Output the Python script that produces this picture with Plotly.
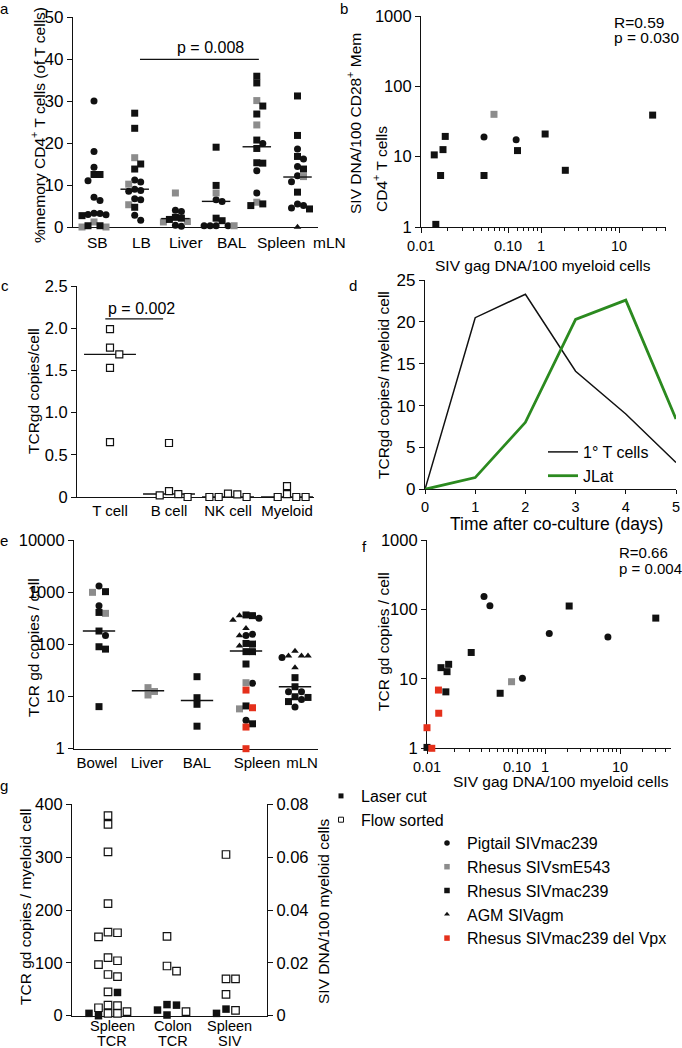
import math
import plotly.graph_objects as go

W, H = 682, 1048
FONT = "Liberation Sans, Arial, Helvetica, sans-serif"
INK = "#111111"
GREY = "#8c8c8c"
RED = "#e5301b"
GREEN = "#2b8a1f"

# ======================= DATA =======================
# species codes: P Pigtail SIVmac239, G Rhesus SIVsmE543, R Rhesus SIVmac239,
#                A AGM SIVagm, V Rhesus SIVmac239 del Vpx
species_order = ["P", "G", "R", "A", "V"]
species_names = ["Pigtail SIVmac239", "Rhesus SIVsmE543", "Rhesus SIVmac239",
                 "AGM SIVagm", "Rhesus SIVmac239 del Vpx"]

# (a) %memory CD4+ T cells (of T cells)
a_categories = ["SB", "LB", "Liver", "BAL", "Spleen", "mLN"]
a_SB = [30, 18, 14.2, 12.5, 12.5, 11, 7.1, 6.3, 3.3, 3.2, 3.0, 2.9, 2.7, 1.2, 0.3, 0.3, 0, 0]
a_SB_sp = list("PPPRRPPPPPPPRGRRGG")
a_LB = [27.1, 23.5, 16.5, 15.0, 13.8, 11.2, 10.7, 10.2, 9.0, 8.7, 8.5, 6.7, 6.5, 5.3, 4.7, 2.8, 1.6]
a_LB_sp = list("RRGRRPPGPPPPPGRPP")
a_Liver = [8.1, 4.0, 3.7, 2.3, 2.1, 1.8, 1.3, 1.2, 0.4, 0.2]
a_Liver_sp = list("GPPRRRGGPP")
a_BAL = [19.0, 9.9, 8.1, 6.5, 6.1, 2.1, 1.5, 0.3, 0.3, 0.3, 0.3, 0.3]
a_BAL_sp = list("RRGPPRRPPPPG")
a_Spleen = [35.9, 34.3, 30.1, 28.8, 26.9, 24.3, 20.7, 19.9, 18.7, 15.3, 15.2, 13.4, 8.1, 5.9, 5.5, 5.1]
a_Spleen_sp = list("RRGRRGRPRRRPPGRR")
a_mLN = [31.2, 21.8, 18.6, 16.8, 16.2, 14.4, 13.8, 12.2, 12.0, 10.8, 8.3, 5.5, 5.1, 4.5, 4.3, 0]
a_mLN_sp = list("RRPRPPRPGPRPPPRA")
a_medians = [3.2, 9.0, 2.0, 6.1, 19.1, 11.9]
a_p_text = "p = 0.008"
a_p_groups = ("LB", "Spleen")
a_p_level = 39.9

# (b) SIV DNA in memory CD4 T cells vs SIV gag DNA in myeloid cells
b_x = [0.0148, 0.0142, 0.0168, 0.0179, 0.019, 0.053, 0.053, 0.069, 0.48, 0.50, 1.13, 2.05, 27]
b_y = [1.09, 10.6, 5.4, 12.6, 19.4, 5.4, 19.0, 40, 17.4, 12.2, 21, 6.4, 39]
b_sp = list("RRRRRRPGPRRRR")
b_stats = ["R=0.59", "p = 0.030"]

# (c) TCRgd copies/cell by sorted population
c_categories = ["T cell", "B cell", "NK cell", "Myeloid"]
c_T = [1.99, 1.77, 1.69, 1.53, 0.65]
c_B = [0.64, 0.035, 0.0, 0.02, 0.07]
c_NK = [0.04, 0.0, 0.0, 0.0, 0.03]
c_My = [0.0, 0.0, 0.0, 0.035, 0.13]
c_medians = [1.69, 0.035, 0.0, 0.0]
c_p_text = "p = 0.002"
c_p_groups = ("T cell", "B cell")
c_p_level = 2.11

# (d) co-culture time course
d_days = [0, 1, 2, 3, 4, 5]
d_T = [0, 20.5, 23.3, 14.1, 9.0, 3.2]
d_JLat = [0, 1.4, 8.0, 20.3, 22.6, 8.4]
d_names = ["1° T cells", "JLat"]

# (e) TCR gd copies / cell by tissue
e_categories = ["Bowel", "Liver", "BAL", "Spleen", "mLN"]
e_Bowel = [1313, 1023, 993, 551, 409, 393, 180, 147, 90, 81, 6.4]
e_Bowel_sp = list("PRGPRGRPRRR")
e_Liver = [14.8, 12.5, 10.7]
e_Liver_sp = list("GGG")
e_BAL = [24, 9.5, 7.1, 2.7]
e_BAL_sp = list("RRRR")
e_Spleen = [366, 355, 355, 315, 293, 203, 156, 147, 147, 104, 101, 94, 72.5, 72.5, 42,
            18.4, 17.9, 13.3, 6.6, 6.1, 5.8, 3.5, 3.0, 2.6, 1.0]
e_Spleen_sp = list("RRAPAAPPARRARRRGPVRVGPRVV")
e_mLN = [74, 60, 60, 60, 56, 36, 23, 15.4, 12.4, 12.4, 9.9, 9.6, 8.8, 8.0, 6.3]
e_mLN_sp = list("AAAAPARRPPRRPRP")
e_medians = [180, 12.9, 8.4, 74.5, 15.4]

# (f) TCR gd copies / cell vs SIV gag DNA / 100 myeloid cells
f_x = [0.01, 0.01, 0.0113, 0.0134, 0.0135, 0.0143, 0.0167, 0.0174, 0.0162, 0.031,
       0.043, 0.05, 0.065, 0.087, 0.50, 1.14, 2.1, 6.9, 30]
f_y = [1.03, 1.98, 1.0, 6.9, 3.2, 14.5, 12.7, 16.2, 6.5, 24,
       153, 113, 6.2, 9.1, 10.2, 45, 112, 40, 75]
f_sp = list("RVVVVRRRRRPPRGPPRPR")
f_stats = ["R=0.66", "p = 0.004"]

# (g) laser cut vs flow sorted
g_categories = [("Spleen", "TCR"), ("Colon", "TCR"), ("Spleen", "SIV")]
g_spleen_tcr_flow = [378.5, 362, 310, 212, 158, 149, 157, 104, 96.5, 110, 74, 78, 45, 19, 20, 15, 7.6, 4.4, 4.4]
g_spleen_tcr_laser = [44, 0, 4.4]
g_colon_tcr_flow = [150, 94, 84.5, 7.6]
g_colon_tcr_laser = [20, 21, 10.7, 1.3]
g_spleen_siv_flow = [0.061, 0.0139, 0.0139, 0.0081, 0.002]   # right axis
g_spleen_siv_laser = [0.00088, 0.0025]                       # right axis
g_legend = ["Laser cut", "Flow sorted"]

# ======================= LAYOUT GEOMETRY (pixels) =======================
def fx(px):
    return px / W


def fy(py):
    return 1 - py / H


def lin_pix(v, r0, r1, p0, p1):
    return p0 + (v - r0) / (r1 - r0) * (p1 - p0)


def log_pix(v, r0, r1, p0, p1):
    return lin_pix(math.log10(max(v, 1e-9)), r0, r1, p0, p1)


SPEC_STYLE = {
    "P": dict(symbol="circle", color=INK),
    "G": dict(symbol="square", color=GREY),
    "R": dict(symbol="square", color=INK),
    "A": dict(symbol="triangle-up", color=INK),
    "V": dict(symbol="square", color=RED),
}

fig = go.Figure()


def swarm(pix, step, vthr):
    n = len(pix)
    order = sorted(range(n), key=lambda i: (pix[i], i))
    placed, offs = [], [0.0] * n
    for i in order:
        k = 0
        while True:
            m = (k + 1) // 2
            c = 0.0 if k == 0 else m * step * (1 if k % 2 else -1)
            if all(abs(c - ox) > step * 0.98 or abs(pix[i] - py) >= vthr for ox, py in placed):
                break
            k += 1
        offs[i] = c
        placed.append((c, pix[i]))
    return offs


def marker_for(s, size=7):
    st = SPEC_STYLE[s]
    sz = size * 0.95 if st["symbol"] == "triangle-up" else size
    return dict(symbol=st["symbol"], color=st["color"], size=sz, line=dict(width=0))


def add_dots(vals_list, sp_list, pix_fn, ppu, step, vthr, xa, ya):
    buckets = {}
    for gi, (vals, sps) in enumerate(zip(vals_list, sp_list)):
        offs = swarm([pix_fn(v) for v in vals], step, vthr)
        for v, s, o in zip(vals, sps, offs):
            bx, by = buckets.setdefault(s, ([], []))
            bx.append(gi + o / ppu)
            by.append(v)
    for s in species_order:
        if s in buckets:
            fig.add_trace(go.Scatter(x=buckets[s][0], y=buckets[s][1], mode="markers",
                                     xaxis=xa, yaxis=ya, showlegend=False, cliponaxis=False,
                                     hoverinfo="skip", marker=marker_for(s)))


def add_medians(meds, half, xa, ya, width=1.4):
    xs, ys = [], []
    for gi, m in enumerate(meds):
        xs += [gi - half, gi + half, None]
        ys += [m, m, None]
    fig.add_trace(go.Scatter(x=xs, y=ys, mode="lines", line=dict(color=INK, width=width),
                             xaxis=xa, yaxis=ya, showlegend=False, hoverinfo="skip",
                             cliponaxis=False))


def add_sig(cats, groups, pads, level, xa, ya):
    i0, i1 = cats.index(groups[0]), cats.index(groups[1])
    fig.add_trace(go.Scatter(x=[i0 + pads[0], i1 + pads[1]], y=[level, level], mode="lines",
                             line=dict(color=INK, width=1.3), xaxis=xa, yaxis=ya,
                             showlegend=False, hoverinfo="skip", cliponaxis=False))


def add_seg_scatter(xs, ys, sps, split, xa1, xa2, ya):
    for s in species_order:
        for first, xa in ((True, xa1), (False, xa2)):
            px = [x for x, sp in zip(xs, sps) if sp == s and ((x <= split) == first)]
            py = [y for x, y, sp in zip(xs, ys, sps) if sp == s and ((x <= split) == first)]
            if px:
                fig.add_trace(go.Scatter(x=px, y=py, mode="markers", xaxis=xa, yaxis=ya,
                                         showlegend=False, cliponaxis=False, hoverinfo="skip",
                                         marker=marker_for(s)))


# ---------------- panel a ----------------
A_X0, A_X1, A_YT, A_YB, A_C0, A_PPU = 73, 318, 17, 227, 94, 40.7
add_dots([a_SB, a_LB, a_Liver, a_BAL, a_Spleen, a_mLN],
         [a_SB_sp, a_LB_sp, a_Liver_sp, a_BAL_sp, a_Spleen_sp, a_mLN_sp],
         lambda v: lin_pix(v, 0, 50, A_YB, A_YT), A_PPU, 6, 6.5, "x", "y")
add_medians(a_medians, 0.35, "x", "y")
add_sig(a_categories, a_p_groups, (0.13, 0.05), a_p_level, "x", "y")
a_label_px = [97, 141, 186, 232, 281, 329]

# ---------------- panel b ----------------
add_seg_scatter(b_x, b_y, b_sp, 0.2, "x2", "x3", "y2")

# ---------------- panel c ----------------
C_X0, C_X1, C_YT, C_YB, C_C0, C_PPU = 77, 314, 286, 497, 110, 59
c_groups = [c_T, c_B, c_NK, c_My]
cx, cy = [], []
for gi, vals in enumerate(c_groups):
    offs = swarm([lin_pix(v, 0, 2.5, C_YB, C_YT) for v in vals], 9.3, 7)
    for v, o in zip(vals, offs):
        cx.append(gi + o / C_PPU)
        cy.append(v)
add_medians(c_medians, 0.44, "x4", "y4")
fig.add_trace(go.Scatter(x=cx, y=cy, mode="markers", xaxis="x4", yaxis="y4", showlegend=False,
                         cliponaxis=False, hoverinfo="skip",
                         marker=dict(symbol="square", color="white", size=7,
                                     line=dict(color=INK, width=1.2))))
add_sig(c_categories, c_p_groups, (-0.08, -0.1), c_p_level, "x4", "y4")

# ---------------- panel d ----------------
fig.add_trace(go.Scatter(x=d_days, y=d_T, mode="lines", name=d_names[0], line=dict(color=INK, width=1.5),
                         xaxis="x5", yaxis="y5", legend="legend3", showlegend=True, hoverinfo="skip",
                         cliponaxis=False))
fig.add_trace(go.Scatter(x=d_days, y=d_JLat, mode="lines", name=d_names[1], line=dict(color=GREEN, width=2.8),
                         xaxis="x5", yaxis="y5", legend="legend3", showlegend=True, hoverinfo="skip",
                         cliponaxis=False))

# ---------------- panel e ----------------
E_X0, E_X1, E_YT, E_YB, E_C0, E_PPU = 74, 318, 540, 748.7, 99, 49
add_dots([e_Bowel, e_Liver, e_BAL, e_Spleen, e_mLN],
         [e_Bowel_sp, e_Liver_sp, e_BAL_sp, e_Spleen_sp, e_mLN_sp],
         lambda v: log_pix(v, 0, 4, E_YB, E_YT), E_PPU, 6.5, 6.5, "x6", "y6")
add_medians(e_medians, 0.33, "x6", "y6")
e_label_px = [97, 147, 197, 257, 302]

# ---------------- panel f ----------------
add_seg_scatter(f_x, f_y, f_sp, 0.2, "x7", "x8", "y7")

# ---------------- panel g ----------------
G_X0, G_X1, G_YT, G_YB, G_C0, G_PPU = 72, 267, 804.3, 1015.7, 108, 59
g_sets = [(g_spleen_tcr_flow, g_spleen_tcr_laser, 400.0),
          (g_colon_tcr_flow, g_colon_tcr_laser, 400.0),
          (g_spleen_siv_flow, g_spleen_siv_laser, 0.08)]
flow_l, laser_l, flow_r, laser_r = ([], []), ([], []), ([], []), ([], [])
for gi, (fl, la, top) in enumerate(g_sets):
    vals = fl + la
    offs = swarm([lin_pix(v, 0, top, G_YB, G_YT) for v in vals], 9.5, 7.5)
    for j, (v, o) in enumerate(zip(vals, offs)):
        is_flow = j < len(fl)
        if top == 400.0:
            tgt = flow_l if is_flow else laser_l
        else:
            tgt = flow_r if is_flow else laser_r
        tgt[0].append(gi + o / G_PPU)
        tgt[1].append(v)
open_sq = dict(symbol="square", color="white", size=7.5, line=dict(color=INK, width=1.2))
fill_sq = dict(symbol="square", color=INK, size=7.5, line=dict(width=0))
for (xs, ys), mk, ya in ((flow_l, open_sq, "y9"), (flow_r, open_sq, "y10"),
                         (laser_l, fill_sq, "y9"), (laser_r, fill_sq, "y10")):
    fig.add_trace(go.Scatter(x=xs, y=ys, mode="markers", xaxis="x9", yaxis=ya, showlegend=False,
                             cliponaxis=False, hoverinfo="skip", marker=mk))

# ---------------- legends (symbol keys) ----------------
fig.add_trace(go.Scatter(x=[None], y=[None], mode="markers", name=g_legend[0], legend="legend",
                         marker=dict(symbol="square", color=INK, size=5, line=dict(width=0)),
                         xaxis="x9", yaxis="y9", showlegend=True, hoverinfo="skip"))
fig.add_trace(go.Scatter(x=[None], y=[None], mode="markers", name=g_legend[1], legend="legend",
                         marker=dict(symbol="square", color="white", size=5, line=dict(color=INK, width=1)),
                         xaxis="x9", yaxis="y9", showlegend=True, hoverinfo="skip"))
for s, nm in zip(species_order, species_names):
    mk = marker_for(s, 5.5)
    fig.add_trace(go.Scatter(x=[None], y=[None], mode="markers", name=nm, legend="legend2",
                             marker=mk, xaxis="x6", yaxis="y6", showlegend=True, hoverinfo="skip"))


# ======================= AXES =======================
def ax(**kw):
    d = dict(showline=True, linecolor=INK, linewidth=1.2, ticks="outside", ticklen=5, tickwidth=1.2,
             tickcolor=INK, showgrid=False, zeroline=False, layer="below traces", automargin=False,
             tickfont=dict(family=FONT, size=16.5, color="black"), fixedrange=True)
    d.update(kw)
    return d


def cat_range(x0, x1, c0, ppu):
    return [(x0 - c0) / ppu, (x1 - c0) / ppu]


def minor(vals):
    return dict(tickmode="array", tickvals=vals, ticks="outside", ticklen=3, tickwidth=1, tickcolor=INK)


seg1_minor = [0.02, 0.03, 0.04, 0.05, 0.06, 0.07, 0.08, 0.09]
seg2_minor = [0.5, 0.6, 0.7, 0.8, 0.9, 2, 3, 4, 5, 6, 7, 8, 9, 20, 30, 40, 50]
small_tick = dict(family=FONT, size=14.5, color="black")

layout_axes = dict(
    # a
    xaxis=ax(domain=[fx(A_X0), fx(A_X1)], range=cat_range(A_X0, A_X1, A_C0, A_PPU), anchor="y",
             ticks="", showticklabels=False),
    yaxis=ax(domain=[fy(A_YB), fy(A_YT)], range=[0, 50], anchor="x", tickvals=[0, 10, 20, 30, 40, 50],
             tickfont=dict(family=FONT, size=17, color="black")),
    # b
    xaxis2=ax(domain=[fx(421), fx(512)], type="log", range=[-2.0, -2 + 91 / 87], anchor="y2",
              tickvals=[0.01, 0.1], ticktext=["0.01", "0.10"], minor=minor(seg1_minor), tickfont=small_tick),
    xaxis3=ax(domain=[fx(512), fx(666)], type="log", range=[-29 / 78, 125 / 78], anchor="y2",
              tickvals=[1, 10], ticktext=["1", "10"], minor=minor(seg2_minor), tickfont=small_tick),
    yaxis2=ax(domain=[fy(227), fy(16)], type="log", range=[0, 3], anchor="x2",
              tickvals=[1, 10, 100, 1000], ticktext=["1", "10", "100", "1000"]),
    # c
    xaxis4=ax(domain=[fx(C_X0), fx(C_X1)], range=cat_range(C_X0, C_X1, C_C0, C_PPU), anchor="y4",
              ticks="", tickvals=[0, 1, 2, 3], ticktext=c_categories,
              tickfont=dict(family=FONT, size=15, color="black")),
    yaxis4=ax(domain=[fy(C_YB), fy(C_YT)], range=[0, 2.5], anchor="x4",
              tickvals=[0, 0.5, 1, 1.5, 2, 2.5], ticktext=["0", "0.5", "1.0", "1.5", "2.0", "2.5"]),
    # d
    xaxis5=ax(domain=[fx(425), fx(676)], range=[0, 5], anchor="y5", tickvals=d_days, ticklen=4,
              tickfont=dict(family=FONT, size=14.5, color="black")),
    yaxis5=ax(domain=[fy(489.3), fy(280)], range=[0, 25], anchor="x5", tickvals=[0, 5, 10, 15, 20, 25],
              tickfont=dict(family=FONT, size=17, color="black")),
    # e
    xaxis6=ax(domain=[fx(E_X0), fx(E_X1)], range=cat_range(E_X0, E_X1, E_C0, E_PPU), anchor="y6",
              ticks="", tickvals=[(p - E_C0) / E_PPU for p in e_label_px], ticktext=e_categories,
              tickfont=dict(family=FONT, size=15, color="black")),
    yaxis6=ax(domain=[fy(E_YB), fy(E_YT)], type="log", range=[0, 4], anchor="x6",
              tickvals=[1, 10, 100, 1000, 10000], ticktext=["1", "10", "100", "1000", "10000"]),
    # f
    xaxis7=ax(domain=[fx(427), fx(519)], type="log", range=[-2.0, -2 + 92 / 90], anchor="y7",
              tickvals=[0.01, 0.1], ticktext=["0.01", "0.10"], minor=minor(seg1_minor), tickfont=small_tick),
    xaxis8=ax(domain=[fx(519), fx(671)], type="log", range=[-26 / 75, 126 / 75], anchor="y7",
              tickvals=[1, 10], ticktext=["1", "10"], minor=minor(seg2_minor), tickfont=small_tick),
    yaxis7=ax(domain=[fy(748.3), fy(540)], type="log", range=[0, 3], anchor="x7",
              tickvals=[1, 10, 100, 1000], ticktext=["1", "10", "100", "1000"]),
    # g
    xaxis9=ax(domain=[fx(G_X0), fx(G_X1)], range=cat_range(G_X0, G_X1, G_C0, G_PPU), anchor="y9",
              ticks="", showticklabels=False),
    yaxis9=ax(domain=[fy(G_YB), fy(G_YT)], range=[0, 400], anchor="x9", tickvals=[0, 100, 200, 300, 400]),
    yaxis10=ax(range=[0, 0.08], anchor="x9", overlaying="y9", side="right",
               tickvals=[0, 0.02, 0.04, 0.06, 0.08], ticktext=["0", "0.02", "0.04", "0.06", "0.08"]),
)


# ======================= TEXT =======================
def ann(text, px, py, size=15.5, angle=0, xanchor="center", yanchor="middle"):
    return dict(text=text, x=fx(px), y=fy(py), xref="paper", yref="paper", showarrow=False,
                font=dict(family=FONT, size=size, color="black"), textangle=angle,
                xanchor=xanchor, yanchor=yanchor)


anns = [
    ann("a", 4, 8, 15), ann("b", 344, 8, 15), ann("c", 5, 286, 15), ann("d", 353, 286, 15),
    ann("e", 4, 540, 15), ann("f", 364, 546, 15), ann("g", 4, 785, 15),
    ann("%memory CD4<sup>+</sup> T cells (of T cells)", 38, 125, 15.5, -90),
    ann(a_p_text, 210, 48, 16),
    ann("SIV DNA/100 CD28<sup>+</sup> Mem", 354, 124, 15.5, -90),
    ann("CD4<sup>+</sup> T cells", 380, 169, 15.5, -90),
    ann("SIV gag DNA/100 myeloid cells", 543, 265, 15.5),
    ann(b_stats[0], 612, 23, 15.5, xanchor="left"), ann(b_stats[1], 612, 38, 15.5, xanchor="left"),
    ann("TCRgd copies/cell", 33, 391, 15.5, -90),
    ann(c_p_text, 141, 308, 16),
    ann("TCRgd copies/ myeloid cell", 383, 385, 15.5, -90),
    ann("Time after co-culture (days)", 556, 524, 17.5),
    ann("TCR gd copies / cell", 33, 648, 15.5, -90),
    ann("TCR gd copies / cell", 383, 641, 15.5, -90),
    ann("SIV gag DNA/100 myeloid cells", 561, 781, 15.5),
    ann(f_stats[0], 617, 552, 15, xanchor="left"), ann(f_stats[1], 617, 568, 15, xanchor="left"),
    ann("TCR gd copies / myeloid cell", 25, 907, 15.5, -90),
    ann("SIV DNA/100 myeloid cells", 323, 912, 15.5, -90),
]
for lab, px in zip(a_categories, a_label_px):
    anns.append(ann(lab, px, 243, 15.5))
for (l1, l2), px in zip(g_categories, [112, 173, 230]):
    anns.append(ann(l1, px, 1026, 14.5))
    anns.append(ann(l2, px, 1041, 14.5))

leg_common = dict(bgcolor="rgba(0,0,0,0)", borderwidth=0, xanchor="left", yanchor="top",
                  itemclick=False, itemdoubleclick=False, tracegroupgap=0)
fig.update_layout(
    width=W, height=H, margin=dict(l=0, r=0, t=0, b=0),
    paper_bgcolor="white", plot_bgcolor="white", hovermode=False,
    font=dict(family=FONT, color="black"),
    annotations=anns,
    legend=dict(x=fx(321), y=fy(779), font=dict(family=FONT, size=16, color="black"), **leg_common),
    legend2=dict(x=fx(427), y=fy(826), font=dict(family=FONT, size=16, color="black"), **leg_common),
    legend3=dict(x=fx(543), y=fy(435), font=dict(family=FONT, size=16, color="black"), **leg_common),
    **layout_axes,
)

fig.write_html("out.html", config={"displayModeBar": False},
               post_script="document.body.style.margin='0';")
